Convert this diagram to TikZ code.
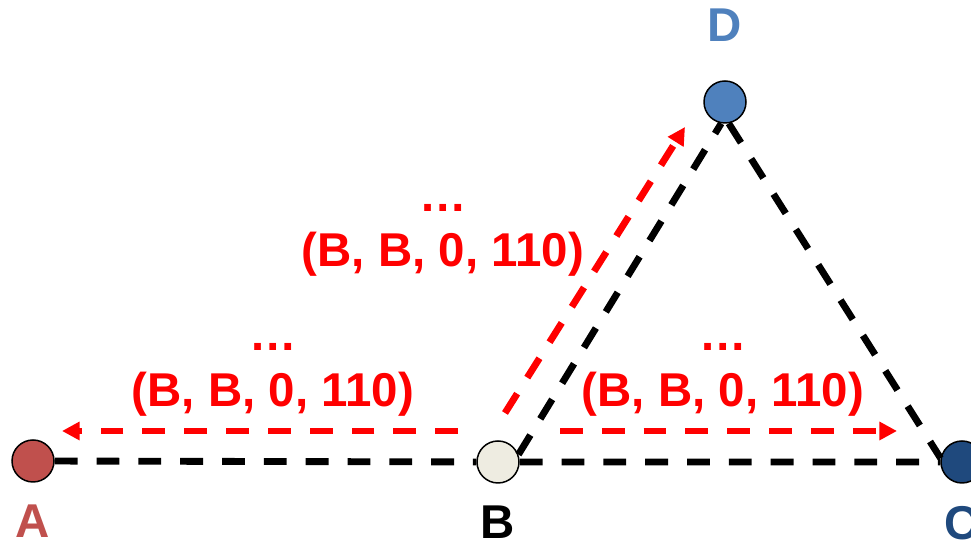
\documentclass[tikz,border=0pt]{standalone}
\usepackage{fontspec}
\setmainfont{Liberation Sans}
\usetikzlibrary{arrows.meta,positioning}
\definecolor{colA}{HTML}{C0504D}
\definecolor{colB}{HTML}{EEECE1}
\definecolor{colC}{HTML}{1F497D}
\definecolor{colD}{HTML}{4F81BD}
\begin{document}
\begin{tikzpicture}[
  pt/.style={circle,draw,line width=0.85pt,minimum size=0.84cm,inner sep=0pt},
  lbl/.style={font=\fontsize{27}{30}\selectfont\bfseries,inner sep=0pt},
  tup/.style={font=\fontsize{27}{30}\selectfont\bfseries,text=red,inner sep=0pt,anchor=base},
  link/.style={dash pattern=on 13pt off 10.8pt,line width=3.9pt},
  hop/.style={link,red,-{Triangle[length=10pt,width=10pt]}}]
  \useasboundingbox (0,0) rectangle (19.42,10.86);
  \node[pt,fill=colA] (A) at (0.66,1.64) {};
  \node[pt,fill=colB] (B) at (9.96,1.62) {};
  \node[pt,fill=colC] (C) at (19.24,1.62) {};
  \node[pt,fill=colD] (D) at (14.50,8.82) {};
  \node[lbl,text=colA,below=0.44cm of A] (lA) {A};
  \node[lbl,below=0.44cm of B] (lB) {B};
  \node[lbl,text=colC,below=0.44cm of C] (lC) {C};
  \node[lbl,text=colD,above=0.76cm of D] (lD) {D};
  % links
  \draw[link] (A) -- (B) -- (C);
  \draw[link] (B.20) -- (D.-100);
  \draw[link] (D.-80) -- (C.170);
  % messages
  \coordinate (s1) at (9.16,2.24); \coordinate (e1) at (1.24,2.24);
  \coordinate (s2) at (10.1,2.6);  \coordinate (e2) at (13.7,8.32);
  \coordinate (s3) at (11.2,2.24); \coordinate (e3) at (17.94,2.24);
  \draw[hop] (s1) -- (e1);
  \draw[hop] (s2) -- (e2);
  \draw[hop] (s3) -- (e3);
  \node[tup] (t1) at (5.46,2.72) {(B, B, 0, 110)};
  \node[tup] (d1) at (5.46,3.84) {…};
  \node[tup] (t2) at (8.86,5.52) {(B, B, 0, 110)};
  \node[tup] (d2) at (8.86,6.62) {…};
  \node[tup] (t3) at (14.46,2.72) {(B, B, 0, 110)};
  \node[tup] (d3) at (14.46,3.84) {…};
\end{tikzpicture}
\end{document}
